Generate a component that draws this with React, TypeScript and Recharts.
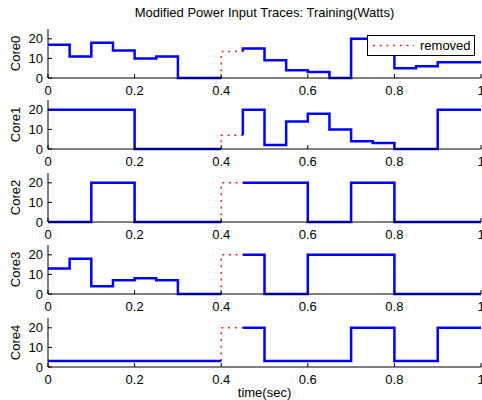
import { LineChart, Line, XAxis, YAxis, Legend } from "recharts";

// power per 0.05 s slot, 20 slots from 0 to 1 s; slot 8 (0.40-0.45) is the removed one
const core0 = [17, 11, 18, 14, 10, 11, 0, 0, 13.5, 15, 9, 4, 3, 0, 20, 20, 5, 6, 8, 8];
const core1 = [20, 20, 20, 20, 0, 0, 0, 0, 7, 20, 2, 14, 18, 10, 4, 3, 0, 0, 20, 20];
const core2 = [0, 0, 20, 20, 0, 0, 0, 0, 20, 20, 20, 20, 0, 0, 20, 20, 0, 0, 0, 0];
const core3 = [13, 18, 4, 7, 8, 7, 0, 0, 20, 20, 0, 0, 20, 20, 20, 20, 0, 0, 0, 0];
const core4 = [3, 3, 3, 3, 3, 3, 3, 3, 20, 20, 3, 3, 3, 3, 20, 20, 3, 3, 20, 20];

const coreNames = ["Core0", "Core1", "Core2", "Core3", "Core4"];
const cores = [core0, core1, core2, core3, core4];
const timeTicks = [0, 0.2, 0.4, 0.6, 0.8, 1];
const powerTicks = [0, 10, 20];

const STEP = 0.05;
const REMOVED = 8;
const FONT = '"Liberation Sans", Arial, Helvetica, sans-serif';
const BLUE = "#0000ff";
const RED = "#ff2020";
const tickStyle = { fontSize: 13, fill: "#000", fontFamily: FONT };

// blue trace: stairs with a break over the removed slot
function traceOf(vals: number[]) {
  const pts: { t: number; v: number | null }[] = [];
  vals.forEach((v, i) => {
    const t = +(i * STEP).toFixed(2);
    if (i === REMOVED) {
      pts.push({ t, v: vals[i - 1] });
      pts.push({ t, v: null });
      return;
    }
    if (i === REMOVED + 1) pts.push({ t, v: vals[REMOVED] });
    pts.push({ t, v });
  });
  pts.push({ t: 1, v: vals[vals.length - 1] });
  return pts;
}

// red dotted piece: jump at 0.40 and the removed slot
function removedOf(vals: number[]) {
  const t0 = +(REMOVED * STEP).toFixed(2);
  const t1 = +((REMOVED + 1) * STEP).toFixed(2);
  return [
    { t: t0, v: vals[REMOVED - 1] },
    { t: t0, v: vals[REMOVED] },
    { t: t1, v: vals[REMOVED] },
  ];
}

const LegendBox = (props: any) => {
  const items = (props.payload || []).filter((p: any) => p.value === "removed");
  return (
    <div>
      {items.map((p: any) => (
        <div
          key={p.value}
          style={{
            border: "1px solid #000",
            background: "#fff",
            width: 106,
            height: 19,
            display: "flex",
            alignItems: "center",
          }}
        >
          <svg width={52} height={19}>
            <line x1={5} y1={9.5} x2={46} y2={9.5} stroke={RED} strokeWidth={1.5} strokeDasharray="2 4.7" />
          </svg>
          <span style={{ fontFamily: FONT, fontSize: 13, color: "#000", lineHeight: "19px" }}>{p.value}</span>
        </div>
      ))}
    </div>
  );
};

const panelTops = [24, 95, 168, 240, 313];

function Panel({ index }: { index: number }) {
  const vals = cores[index];
  const last = index === cores.length - 1;
  const first = index === 0;
  return (
    <div style={{ position: "absolute", left: 0, top: panelTops[index] }}>
      <LineChart width={482} height={last ? 88 : 74} margin={{ top: 5, right: 1, bottom: 0, left: 0 }}>
        <XAxis
          xAxisId="b"
          dataKey="t"
          type="number"
          domain={[0, 1]}
          ticks={timeTicks}
          interval={0}
          height={last ? 34 : 20}
          tickSize={-4}
          tickMargin={12}
          stroke="#000"
          tick={tickStyle}
          tickFormatter={(v: number) => String(v)}
          label={
            last
              ? { value: "time(sec)", position: "insideBottom", offset: 4, style: { fontSize: 13, fontFamily: FONT, fill: "#000" } }
              : undefined
          }
        />
        <XAxis
          xAxisId="top"
          orientation="top"
          type="number"
          domain={[0, 1]}
          ticks={timeTicks}
          height={0}
          tickSize={-4}
          tick={false}
          stroke="#000"
        />
        <YAxis
          yAxisId="l"
          type="number"
          domain={[0, 25]}
          ticks={powerTicks}
          interval={0}
          width={48}
          tickSize={-4}
          tickMargin={9}
          stroke="#000"
          tick={tickStyle}
          label={{
            value: coreNames[index],
            angle: -90,
            position: "insideLeft",
            offset: 15,
            style: { textAnchor: "middle", fontSize: 13, fontFamily: FONT, fill: "#000" },
          }}
        />
        <YAxis
          yAxisId="r"
          orientation="right"
          type="number"
          domain={[0, 25]}
          ticks={powerTicks}
          width={0}
          tickSize={-4}
          tick={false}
          stroke="#000"
        />
        <Line
          xAxisId="b"
          yAxisId="l"
          data={removedOf(vals)}
          dataKey="v"
          name="removed"
          type="linear"
          stroke={RED}
          strokeWidth={1.5}
          strokeDasharray="2 4.7"
          dot={false}
          activeDot={false}
          isAnimationActive={false}
        />
        <Line
          xAxisId="b"
          yAxisId="l"
          data={traceOf(vals)}
          dataKey="v"
          name="trace"
          type="stepAfter"
          stroke={BLUE}
          strokeWidth={2.5}
          connectNulls={false}
          dot={false}
          activeDot={false}
          isAnimationActive={false}
        />
        {first && (
          <Legend
            layout="vertical"
            align="center"
            verticalAlign="middle"
            content={LegendBox}
            wrapperStyle={{ left: 367, top: 11, width: 108, height: 21 }}
          />
        )}
      </LineChart>
    </div>
  );
}

export default function App() {
  return (
    <div style={{ position: "absolute", left: 0, top: 0, width: 482, height: 400, background: "#fff" }}>
      <div
        style={{
          position: "absolute",
          left: 48,
          top: 5,
          width: 433,
          textAlign: "center",
          fontFamily: FONT,
          fontSize: 13,
          lineHeight: "15px",
          color: "#000",
        }}
      >
        Modified Power Input Traces: Training(Watts)
      </div>
      {cores.map((_, i) => (
        <Panel key={coreNames[i]} index={i} />
      ))}
    </div>
  );
}
